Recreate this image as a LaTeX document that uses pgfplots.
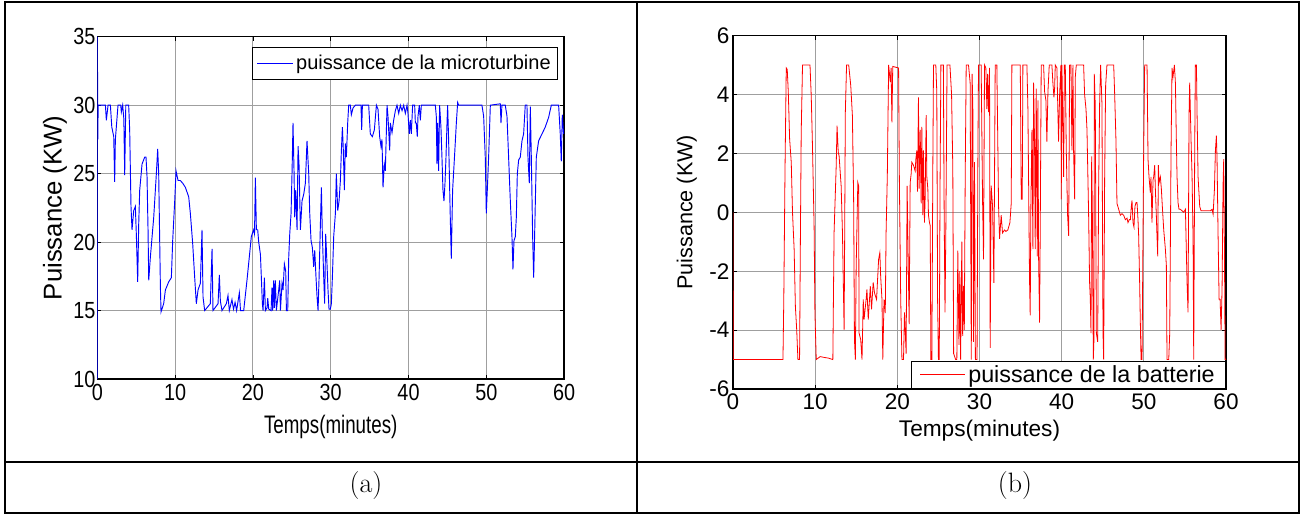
\documentclass[border=0pt]{standalone}
\usepackage{pgfplots}
\pgfplotsset{compat=1.18}
\usepackage{fontspec}
\newfontfamily\arial{Liberation Sans}
\pgfplotsset{
  mat/.style={scale only axis, grid=major,
    major grid style={gray!75, line width=0.7pt},
    tick align=inside, major tick length=3pt, tick style={black, line width=0.6pt},
    axis line style={line width=1pt},
    /pgf/number format/assume math mode=true,
    xmin=0, xmax=60, xtick={0,10,...,60},
    legend cell align=left},
}
\begin{document}
\begin{tikzpicture}
% table frame
\draw[line width=1.5pt] (3.75pt,1.5pt) rectangle (974.6pt,384.4pt);
\draw[line width=1.5pt] (3.75pt,40pt) -- (974.6pt,40pt);
\draw[line width=1.5pt] (477.4pt,1.5pt) -- (477.4pt,384.4pt);
\node[font=\fontsize{21}{23}\selectfont] at (274.5pt,21.75pt) {(a)};
\node[font=\fontsize{21}{23}\selectfont] at (761.25pt,21.75pt) {(b)};

% ---------- left axis (a)
\begin{axis}[mat, at={(73.05pt,102pt)}, anchor=south west,
  width=350pt, height=256.7pt,
  ymin=10, ymax=35, ytick={10,15,...,35},
  tick label style={font=\arial\fontsize{17.5}{19}\selectfont, xscale=0.85},
  yticklabel style={inner xsep=1.5pt},
  xlabel={Temps(minutes)}, ylabel={Puissance (KW)},
  xlabel style={font=\arial\fontsize{19}{21}\selectfont, xscale=0.74, at={(axis description cs:0.5,-0.14)}, anchor=center},
  ylabel style={font=\arial\fontsize{19.3}{21}\selectfont, at={(axis description cs:-0.091,0.5)}, anchor=center},
  legend style={font=\arial\fontsize{15}{17}\selectfont, draw=black, line width=0.9pt,
    at={(0.987,0.971)}, anchor=north east, inner xsep=3pt, inner ysep=4pt},
  legend image code/.code={\draw[#1, line width=0.7pt] (0pt,0pt) -- (27pt,0pt);},
]
\addplot[color={rgb,255:red,0;green,0;blue,255}, line width=0.7pt] table {
t P
0 10
0 35
0.05 27.5
0.1 30
1.03 30
1.15 28.9
1.37 30
1.67 30
1.85 28.4
2.1 27.7
2.22 24.4
2.31 27.5
2.65 30
3.0 30
3.08 29.5
3.25 30
3.4 29
3.51 24.9
3.65 30
4.02 30
4.15 28.2
4.32 22.6
4.45 20.9
4.67 22.3
4.88 22.6
5.01 20.5
5.18 17.1
5.31 21.3
5.44 23.8
5.74 25.7
6.08 26.2
6.25 26.2
6.38 24.8
6.51 20.9
6.6 17.2
6.81 18.9
7.24 21.8
7.58 25.0
7.75 26.8
7.88 25.0
8.1 16.7
8.18 14.9
8.52 15.5
8.74 16.5
9.17 17.1
9.51 17.4
9.68 20.1
9.94 23.0
10.11 25.2
10.37 24.5
10.66 24.5
10.97 24.3
11.31 24.0
11.74 23.3
11.95 22.1
12.25 19.9
12.51 17.4
12.72 15.5
12.94 16.5
13.24 17.0
13.45 20.9
13.58 16.0
13.79 15.0
14.52 15.5
14.74 19.5
14.86 15.0
15.51 15.5
15.68 17.6
15.81 15.7
16.02 15.0
16.58 15.5
16.79 16.1
16.96 15.0
17.3 15.8
17.5 15.1
17.7 15.6
17.9 15.0
18.25 16.3
18.4 15.0
18.81 15.0
19.23 17.2
19.53 18.9
19.79 20.4
20.09 20.9
20.2 20.6
20.31 24.7
20.44 20.9
20.61 20.9
20.74 20.0
20.96 19.1
21.08 17.4
21.21 15.5
21.3 15.0
21.47 17.4
21.6 15.0
21.81 15.2
21.9 15.9
22.03 15.1
22.33 15.0
22.45 16.7
22.54 15.0
22.67 17.2
22.75 15.2
22.88 17.2
23.01 15.0
23.31 16.5
23.44 17.2
23.53 15.0
23.74 17.0
23.87 16.5
24.04 18.4
24.21 17.9
24.3 15.0
24.47 15.0
24.6 18.9
24.73 20.6
24.9 22.1
25.03 25.2
25.15 28.7
25.28 25.2
25.37 21.8
25.5 23.8
25.67 20.9
25.8 27.0
25.93 25.6
26.1 20.9
26.31 23.0
26.53 23.5
26.74 24.3
26.95 27.4
27.17 25.0
27.3 22.1
27.47 20.1
27.64 19.6
27.81 18.2
27.94 19.4
28.11 17.4
28.24 16.0
28.37 15.0
28.5 17.4
28.67 21.3
28.8 24.0
28.92 20.6
29.1 17.4
29.22 15.5
29.35 20.6
29.52 18.4
29.65 16.5
29.78 15.1
29.95 15.1
30.08 15.5
30.21 17.4
30.38 20.4
30.6 22.1
30.72 25.0
30.9 22.3
31.07 23.0
31.24 24.5
31.37 26.7
31.5 28.4
31.62 26.7
31.75 23.8
31.88 27.2
32.01 26.2
32.18 28.7
32.31 30
32.52 30
32.65 29.3
32.87 29.8
33.17 30
33.89 30
33.98 28.2
34.07 30
34.88 30
35.09 27.9
35.35 27.7
35.61 28.2
35.87 30
36.08 29.7
36.29 27.7
36.46 27.0
36.59 27.5
36.72 24.0
36.89 25.7
37.02 25.2
37.24 30
37.36 29.2
37.58 26.7
37.66 28.7
37.88 28.0
38.09 28.9
38.31 29.6
38.52 30
38.74 29.4
38.95 30
39.17 29.6
39.38 30
39.59 29.4
39.81 30
39.93 29.4
40.1 27.9
40.23 28.9
40.36 27.9
40.53 30
40.79 30
40.88 28.7
41.0 28.7
41.13 27.7
41.22 29.2
41.39 30
41.52 28.9
41.65 30
43.45 30
43.57 29.2
43.66 25.7
43.75 28.7
43.87 25.2
44.0 30
44.17 28.4
44.3 26.2
44.43 23.8
44.56 23.0
44.69 24.3
44.82 26.2
44.95 28.7
45.03 30
45.16 27.4
45.37 21.8
45.5 18.8
45.67 23.8
45.93 26.4
46.15 28.7
46.32 30.2
46.45 30
49.44 30
49.66 29.2
49.87 26.2
50.0 22.1
50.13 23.8
50.3 26.2
50.52 30
51.8 30.1
51.89 28.7
52.01 30
52.44 30
52.66 29.2
52.87 26.2
53.09 23.0
53.3 20.4
53.43 18.0
53.56 20.1
53.73 20.4
53.86 21.8
53.99 25.0
54.16 26.0
54.37 26.2
54.59 27.4
54.8 27.9
55.01 30
55.23 30
55.36 26.2
55.53 24.3
55.66 29.9
55.79 26.2
55.96 20.4
56.09 17.4
56.21 20.4
56.43 26.2
56.73 27.4
57.16 27.9
57.58 28.4
58.01 29.1
58.36 30
59.3 30
59.51 27.9
59.64 25.9
59.77 29.3
59.94 27.9
60 28.2
};
\addlegendentry{puissance de la microturbine}
\end{axis}

% ---------- right axis (b)
\begin{axis}[mat, at={(549.75pt,94.5pt)}, anchor=south west,
  width=369.75pt, height=265.1pt,
  ymin=-6, ymax=6, ytick={-6,-4,...,6},
  tick label style={font=\arial\fontsize{16.9}{19}\selectfont},
  yticklabel style={inner xsep=2.5pt},
  xlabel={Temps(minutes)}, ylabel={Puissance (KW)},
  xlabel style={font=\arial\fontsize{17}{19}\selectfont, at={(axis description cs:0.5,-0.119)}, anchor=center},
  ylabel style={font=\arial\fontsize{16.2}{18}\selectfont, at={(axis description cs:-0.094,0.5)}, anchor=center},
  legend style={font=\arial\fontsize{17.5}{19}\selectfont, draw=black, line width=0.9pt,
    at={(1,0)}, anchor=south east, inner xsep=6pt, inner ysep=1pt},
  legend image code/.code={\draw[#1, line width=0.7pt] (0pt,0pt) -- (33.75pt,0pt);},
]
\addplot[color={rgb,255:red,255;green,0;blue,0}, line width=0.6pt] table {
t P
0 0
0.02 -5
6.08 -5
6.18 -2.96
6.33 1.46
6.48 4.9
6.6 4.85
6.73 4.07
6.89 2.49
7.09 1.69
7.24 0
7.44 -1.26
7.59 -3.19
7.75 -3.98
7.9 -5
8.1 -5
8.2 -0.92
8.3 2.71
8.46 5
9.37 5
9.52 3.96
9.67 2.26
9.87 -0.47
9.97 -3.42
10.13 -5
10.6 -4.9
11.14 -4.93
11.6 -4.95
12.15 -5
12.3 -0.69
12.56 1.58
12.66 2.94
12.81 2.03
12.91 1.92
13.16 0.9
13.32 -0.69
13.52 -3.98
13.57 -1.83
13.67 3.39
13.82 5
14.08 5
14.33 4.3
14.53 3.28
14.68 0.44
14.78 -4.32
14.89 -5
14.99 -1.83
15.19 1.01
15.29 0.9
15.34 -4.1
15.54 -4.32
15.7 -5
15.85 -2.96
15.95 -3.64
16.2 -2.96
16.3 -2.62
16.46 -3.64
16.71 -2.51
16.86 -3.3
17.06 -2.38
17.22 -2.74
17.47 -2.96
17.72 -1.6
17.87 -1.37
17.97 -2.17
18.13 -2.96
18.23 -5
18.38 -2.96
18.53 -3.42
18.63 -0.69
18.78 1.24
18.94 5
19.14 4.42
19.24 4.9
19.34 3.05
19.44 4.95
20.15 4.9
20.25 1.01
20.41 -2.96
20.56 -5
20.75 -5
20.87 -3.4
21.07 -4.8
21.19 0.9
21.35 -2.2
21.44 -3.8
21.56 1.0
21.68 1.3
21.76 1.7
21.96 1.6
22.17 1.4
22.25 1.8
22.37 2.1
22.45 0.7
22.57 3.9
22.65 0.8
22.78 2.8
22.9 0.3
22.98 2.9
23.1 -0.1
23.18 2.1
23.3 -0.35
23.38 0.44
23.51 3.3
23.59 1.2
23.71 0.8
23.79 -0.1
23.91 -0.35
24.0 -0.45
24.08 -5
24.2 -5
24.32 1.6
24.4 5
24.68 5
24.8 4.1
24.9 -3.0
25.0 -5
25.1 -5
25.2 1.0
25.3 5
25.6 5
25.7 -0.1
25.8 -3.4
25.9 -0.7
26.05 5
26.4 5
26.6 4.0
26.75 1.5
26.85 -4.8
27.1 -5
27.24 -5
27.36 -1.3
27.5 -4.5
27.6 -2.0
27.7 -5
27.85 -1.0
27.95 -4.2
28.05 -2.5
28.15 -4.0
28.26 1.2
28.38 5
28.66 5
28.86 4.4
29.0 -5
29.1 4.7
29.19 3.5
29.27 -4.4
29.39 1.7
29.5 -5
29.7 -5
29.8 1.7
29.88 5
30.2 5
30.37 0.44
30.49 -1.6
30.61 5
30.77 4.9
30.9 3.5
30.98 4.7
31.1 3.4
31.22 4.9
31.3 -4.6
31.42 0.9
31.59 0.2
31.75 -2.4
31.91 5
32.11 5
32.32 0.2
32.44 -0.9
32.64 -0.1
32.8 -0.7
33.05 -0.6
33.21 -0.65
33.45 -0.6
33.7 -0.35
33.86 0.3
33.94 5
34.96 5
35.08 0.44
35.2 0.44
35.28 5
35.77 5
35.89 3.5
35.97 1.2
36.09 -2.3
36.17 -3.5
36.25 0.2
36.38 2.8
36.5 -1.25
36.58 4.4
36.7 2.4
36.78 -1.25
36.9 4.2
37.03 -1.5
37.11 3.8
37.19 -1.5
37.31 -3.75
37.39 -0.6
37.51 5
37.8 5
37.92 4.1
38.08 3.8
38.2 2.4
38.33 4.1
38.49 5
38.81 5
38.93 4.4
39.06 3.9
39.14 4.2
39.22 5
39.42 4.9
39.62 2.4
39.75 4.0
39.91 5
39.95 0.44
40.03 5
40.15 2.9
40.24 1.2
40.32 5
40.44 5
40.56 2.1
40.72 -0.1
40.85 -0.8
40.97 5
41.13 5
41.25 2.1
41.37 5
41.45 2.1
41.58 0.44
41.66 4.6
41.78 5
42.67 5
42.79 4.0
42.96 3.5
43.08 2.8
43.28 -0.1
43.4 -2.4
43.48 -2.9
43.57 -4.1
43.65 1.9
43.73 0.1
43.85 -5
43.93 -4.3
43.97 4.7
44.09 3.6
44.22 -4.1
44.38 -4.4
44.5 0.9
44.62 3.7
44.74 5
44.9 3.7
45.03 -4.1
45.11 -5
45.23 1.2
45.35 4.3
45.51 5
46.33 5
46.45 4.0
46.61 2.4
46.73 0.3
46.94 0.1
47.14 -0.1
47.34 -0.05
47.54 -0.1
47.75 -0.25
47.95 -0.2
48.07 -0.35
48.23 -0.25
48.36 -0.25
48.48 0.2
48.56 0.4
48.68 -0.35
48.8 -0.5
48.92 0.2
49.05 0.33
49.17 0.33
49.29 -0.25
49.37 -0.8
49.49 -2.4
49.57 -3.7
49.66 -5
49.78 -5
49.98 2.1
50.1 5
50.39 5
50.51 1.8
50.63 1.2
50.79 0.67
50.87 1.2
50.99 -0.35
51.12 1.1
51.2 1.2
51.32 1.6
51.4 0.8
51.52 -0.1
51.6 -0.8
51.69 -1.5
51.77 1.6
51.85 1.0
51.93 1.1
52.01 1.2
52.13 0.8
52.25 0.2
52.42 -0.6
52.62 -1.25
52.74 -1.8
52.82 -5
53.03 -5
53.15 -4.1
53.31 2.1
53.43 4.9
53.55 4.6
53.72 5
53.84 4.4
53.96 2.4
54.04 1.2
54.16 0.33
54.28 0.1
54.45 0.1
54.65 0.05
54.85 0
55.06 0.1
55.26 -2.4
55.38 -3.4
55.5 3.3
55.58 4.4
55.75 2.4
55.87 1.2
55.99 -0.9
56.07 -5
56.19 2.1
56.27 5
56.4 5
56.48 3.3
56.6 1.2
56.8 0.2
56.96 0.05
57.29 0.05
57.7 0.05
58.1 0.05
58.3 0.1
58.43 -0.07
58.59 0.78
58.71 2.1
58.83 2.6
58.91 1.8
59.03 -0.7
59.16 -2.95
59.28 -2.95
59.4 -4.0
59.52 -2.6
59.64 0.9
59.72 1.8
59.81 -1.25
59.89 -5
60 -5
};
\addlegendentry{puissance de la batterie}
\end{axis}
\pgfresetboundingbox
\useasboundingbox (0pt,0pt) rectangle (975.75pt,386.25pt);
\end{tikzpicture}
\end{document}
